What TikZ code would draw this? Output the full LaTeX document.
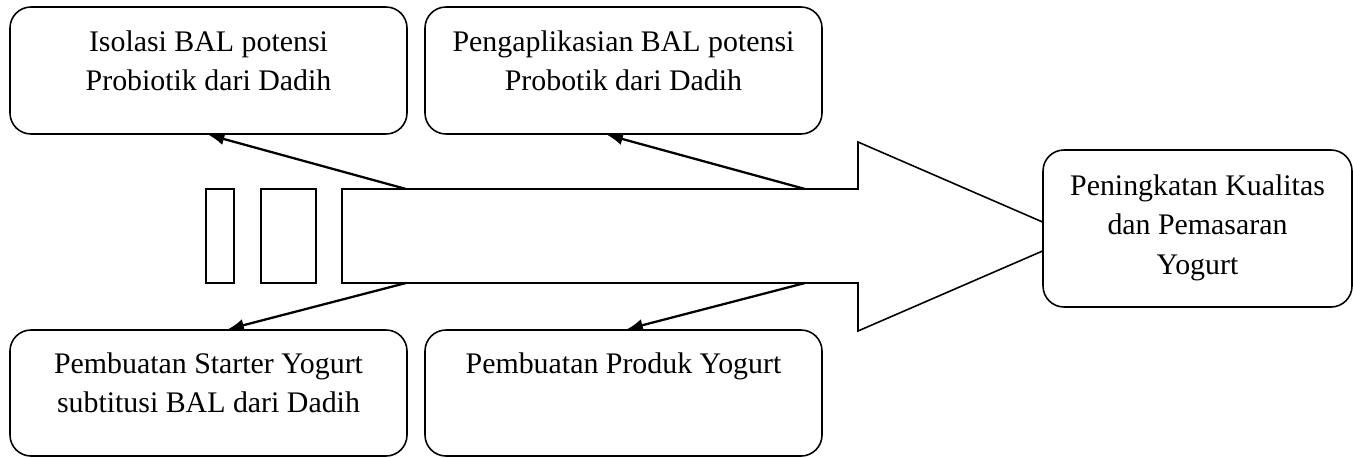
\documentclass[tikz,border=0pt]{standalone}
\usepackage{fontspec}
\setmainfont{Liberation Serif}
\usetikzlibrary{arrows.meta}

\tikzset{
  box/.style={draw, line width=0.9pt, rounded corners=0.42cm, fill=white, inner sep=0pt},
  lbl/.style={anchor=north, align=center, inner sep=0pt, font=\fontsize{17}{22.5}\selectfont},
  link/.style={line width=1.3pt, -{Latex[length=9pt,width=7pt]}}
}

\begin{document}
\begin{tikzpicture}
  \useasboundingbox (0,0) rectangle (27.06,9.14);

  % big arrow
  \draw[line width=0.9pt, fill=white] (6.84,5.36) -- (17.16,5.36) -- (17.16,6.30) -- (21.52,4.41)
    -- (17.16,2.52) -- (17.16,3.48) -- (6.84,3.48) -- cycle;
  \draw[line width=0.9pt] (4.12,3.48) rectangle (4.68,5.36);
  \draw[line width=0.9pt] (5.22,3.48) rectangle (6.32,5.36);

  \coordinate (A1) at (8.12,5.36);
  \coordinate (A2) at (16.10,5.36);
  \coordinate (B1) at (8.12,3.48);
  \coordinate (B2) at (16.10,3.48);

  \node[box, minimum width=7.94cm, minimum height=2.54cm] (isolasi) at (4.17,7.73) {};
  \node[box, minimum width=7.94cm, minimum height=2.54cm] (aplikasi) at (12.47,7.73) {};
  \node[box, minimum width=7.94cm, minimum height=2.52cm] (starter) at (4.17,1.28) {};
  \node[box, minimum width=7.94cm, minimum height=2.52cm] (produk) at (12.47,1.28) {};
  \node[box, minimum width=6.18cm, minimum height=3.14cm] (kualitas) at (23.95,4.57) {};

  \node[lbl] (tIsolasi) at ([yshift=-0.48cm]isolasi.north) {Isolasi BAL potensi\\Probiotik dari Dadih};
  \node[lbl] (tAplikasi) at ([yshift=-0.48cm]aplikasi.north) {Pengaplikasian BAL potensi\\Probotik dari Dadih};
  \node[lbl] (tStarter) at ([yshift=-0.46cm]starter.north) {Pembuatan Starter Yogurt\\subtitusi BAL dari Dadih};
  \node[lbl] (tProduk) at ([yshift=-0.46cm]produk.north) {Pembuatan Produk Yogurt};
  \node[lbl] (tKualitas) at ([yshift=-0.50cm]kualitas.north) {Peningkatan Kualitas\\dan Pemasaran\\Yogurt};

  \draw[link] (A1) -- (isolasi.south);
  \draw[link] (A2) -- ([xshift=-0.33cm]aplikasi.south);
  \draw[link] (B1) -- ([xshift=0.39cm]starter.north);
  \draw[link] (B2) -- ([xshift=0.07cm]produk.north);
\end{tikzpicture}
\end{document}
